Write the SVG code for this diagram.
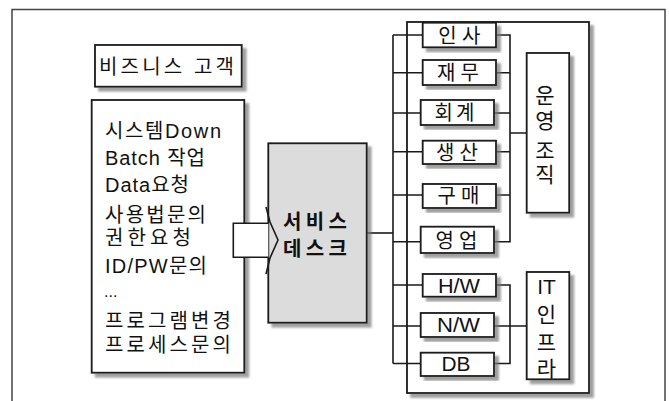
<svg xmlns="http://www.w3.org/2000/svg" width="669" height="401" viewBox="0 0 669 401">
<defs>
<filter id="sh" x="-20%" y="-20%" width="140%" height="140%">
<feDropShadow dx="4" dy="4" stdDeviation="1.2" flood-color="#777" flood-opacity="0.7"/>
</filter>
<style>
.box{fill:#fff;stroke:#1a1a1a;stroke-width:1.8;filter:url(#sh)}
.gray{fill:#dcdcdc;stroke:#1a1a1a;stroke-width:1.8;filter:url(#sh)}
.ln{fill:none;stroke:#1a1a1a;stroke-width:1.6}
.t{font-family:"Liberation Sans","Noto Sans CJK KR",sans-serif;font-size:20px;fill:#111}
.v{font-size:21px}
.c{text-anchor:middle}
.b{font-family:"Liberation Sans","Noto Sans CJK KR",sans-serif;font-size:20px;font-weight:bold;fill:#111}
</style>
</defs>
<rect width="669" height="401" fill="#fff"/>
<rect x="12" y="9.5" width="653" height="400" fill="none" stroke="#444" stroke-width="1.5"/>

<g id="container"><rect class="box" x="407" y="22" width="182" height="371"/></g>

<g id="connectors">
<path class="ln" d="M393,35 V363.5"/>
<path class="ln" d="M367,233 H393"/>
<path class="ln" d="M393,35 H423 M393,72.7 H423 M393,113 H421 M393,151.7 H423 M393,195 H423 M393,241.7 H421 M393,285 H423 M393,326 H421 M393,363.5 H421"/>
<path class="ln" d="M496,35 H510 V241.7 H494 M496,72.7 H510 M494,113 H510 M496,151.7 H510 M496,195 H510 M510,133 H527"/>
<path class="ln" d="M496,285 H510 V363.5 H494 M494,326 H527"/>
</g>

<g id="customer"><rect class="box" x="95" y="45" width="146.7" height="41.7"/>
<text class="t" x="99" y="74" textLength="135" lengthAdjust="spacing">비즈니스 고객</text></g>

<g id="requests"><rect class="box" x="91.7" y="100" width="152.6" height="272.7"/>
<text class="t" x="105" y="138.4" textLength="116" lengthAdjust="spacing">시스템Down</text>
<text class="t" x="105" y="165" textLength="100" lengthAdjust="spacing">Batch 작업</text>
<text class="t" x="105" y="192.3" textLength="84" lengthAdjust="spacing">Data요청</text>
<text class="t" x="105" y="221.5" textLength="101" lengthAdjust="spacing">사용법문의</text>
<text class="t" x="105" y="245.3" textLength="86" lengthAdjust="spacing">권한요청</text>
<text class="t" x="105" y="272.6" textLength="102" lengthAdjust="spacing">ID/PW문의</text>
<text class="t" x="104" y="297" style="font-size:16px">...</text>
<text class="t" x="105" y="327.6" textLength="126" lengthAdjust="spacing">프로그램변경</text>
<text class="t" x="105" y="351.8" textLength="126" lengthAdjust="spacing">프로세스문의</text>
</g>

<g id="servicedesk"><rect class="gray" x="268.3" y="143.3" width="98.4" height="179.4"/>
<text class="b c" x="315" y="229" textLength="64" lengthAdjust="spacing">서비스</text>
<text class="b c" x="315" y="256" textLength="64" lengthAdjust="spacing">데스크</text>
</g>

<g id="arrow">
<rect x="233.3" y="223.3" width="35" height="34" fill="#fff"/>
<path class="ln" d="M268.3,223.3 H233.3 V257.3 H268.3"/>
<polyline class="ln" points="266,207 270,222 278,240 270,258 266,274"/>
</g>

<g id="insa"><rect class="box" x="422.7" y="22.7" width="73.3" height="24.6"/><text class="t c" x="459.3" y="43" textLength="42" lengthAdjust="spacing">인사</text></g>
<g id="jaemu"><rect class="box" x="422.7" y="60" width="73.3" height="25"/><text class="t c" x="458" y="80.2" textLength="42" lengthAdjust="spacing">재무</text></g>
<g id="hoegye"><rect class="box" x="420.7" y="100" width="73.3" height="25"/><text class="t c" x="454.5" y="120.2" textLength="40" lengthAdjust="spacing">회계</text></g>
<g id="saengsan"><rect class="box" x="422.7" y="140.7" width="73.3" height="23.3"/><text class="t c" x="457" y="159.6" textLength="42" lengthAdjust="spacing">생산</text></g>
<g id="gumae"><rect class="box" x="422.7" y="184" width="73.3" height="24"/><text class="t c" x="458.5" y="203.2" textLength="42" lengthAdjust="spacing">구매</text></g>
<g id="yeongeop"><rect class="box" x="420.7" y="226.7" width="73.3" height="26.3"/><text class="t c" x="456.5" y="247.6" textLength="42" lengthAdjust="spacing">영업</text></g>

<g id="hw"><rect class="box" x="422.7" y="274" width="73.3" height="22.7"/><text class="t c" x="459" y="292.6" textLength="42" lengthAdjust="spacingAndGlyphs">H/W</text></g>
<g id="nw"><rect class="box" x="420.7" y="313" width="73.3" height="24"/><text class="t c" x="458.5" y="332.4" textLength="43" lengthAdjust="spacingAndGlyphs">N/W</text></g>
<g id="db"><rect class="box" x="420.7" y="352.7" width="73.3" height="23.3"/><text class="t c" x="456" y="371.4" textLength="29" lengthAdjust="spacingAndGlyphs">DB</text></g>

<g id="ops"><rect class="box" x="526.7" y="53" width="42.5" height="159.7"/>
<text class="t v c" x="545" y="103">운</text>
<text class="t v c" x="545" y="128">영</text>
<text class="t v c" x="545" y="158">조</text>
<text class="t v c" x="545" y="182">직</text>
</g>
<g id="infra"><rect class="box" x="526.7" y="272" width="42.6" height="107.3"/>
<text class="t v c" x="546.5" y="294">IT</text>
<text class="t v c" x="546.5" y="321.5">인</text>
<text class="t v c" x="546.5" y="350">프</text>
<text class="t v c" x="546.5" y="375.5">라</text>
</g>
</svg>
